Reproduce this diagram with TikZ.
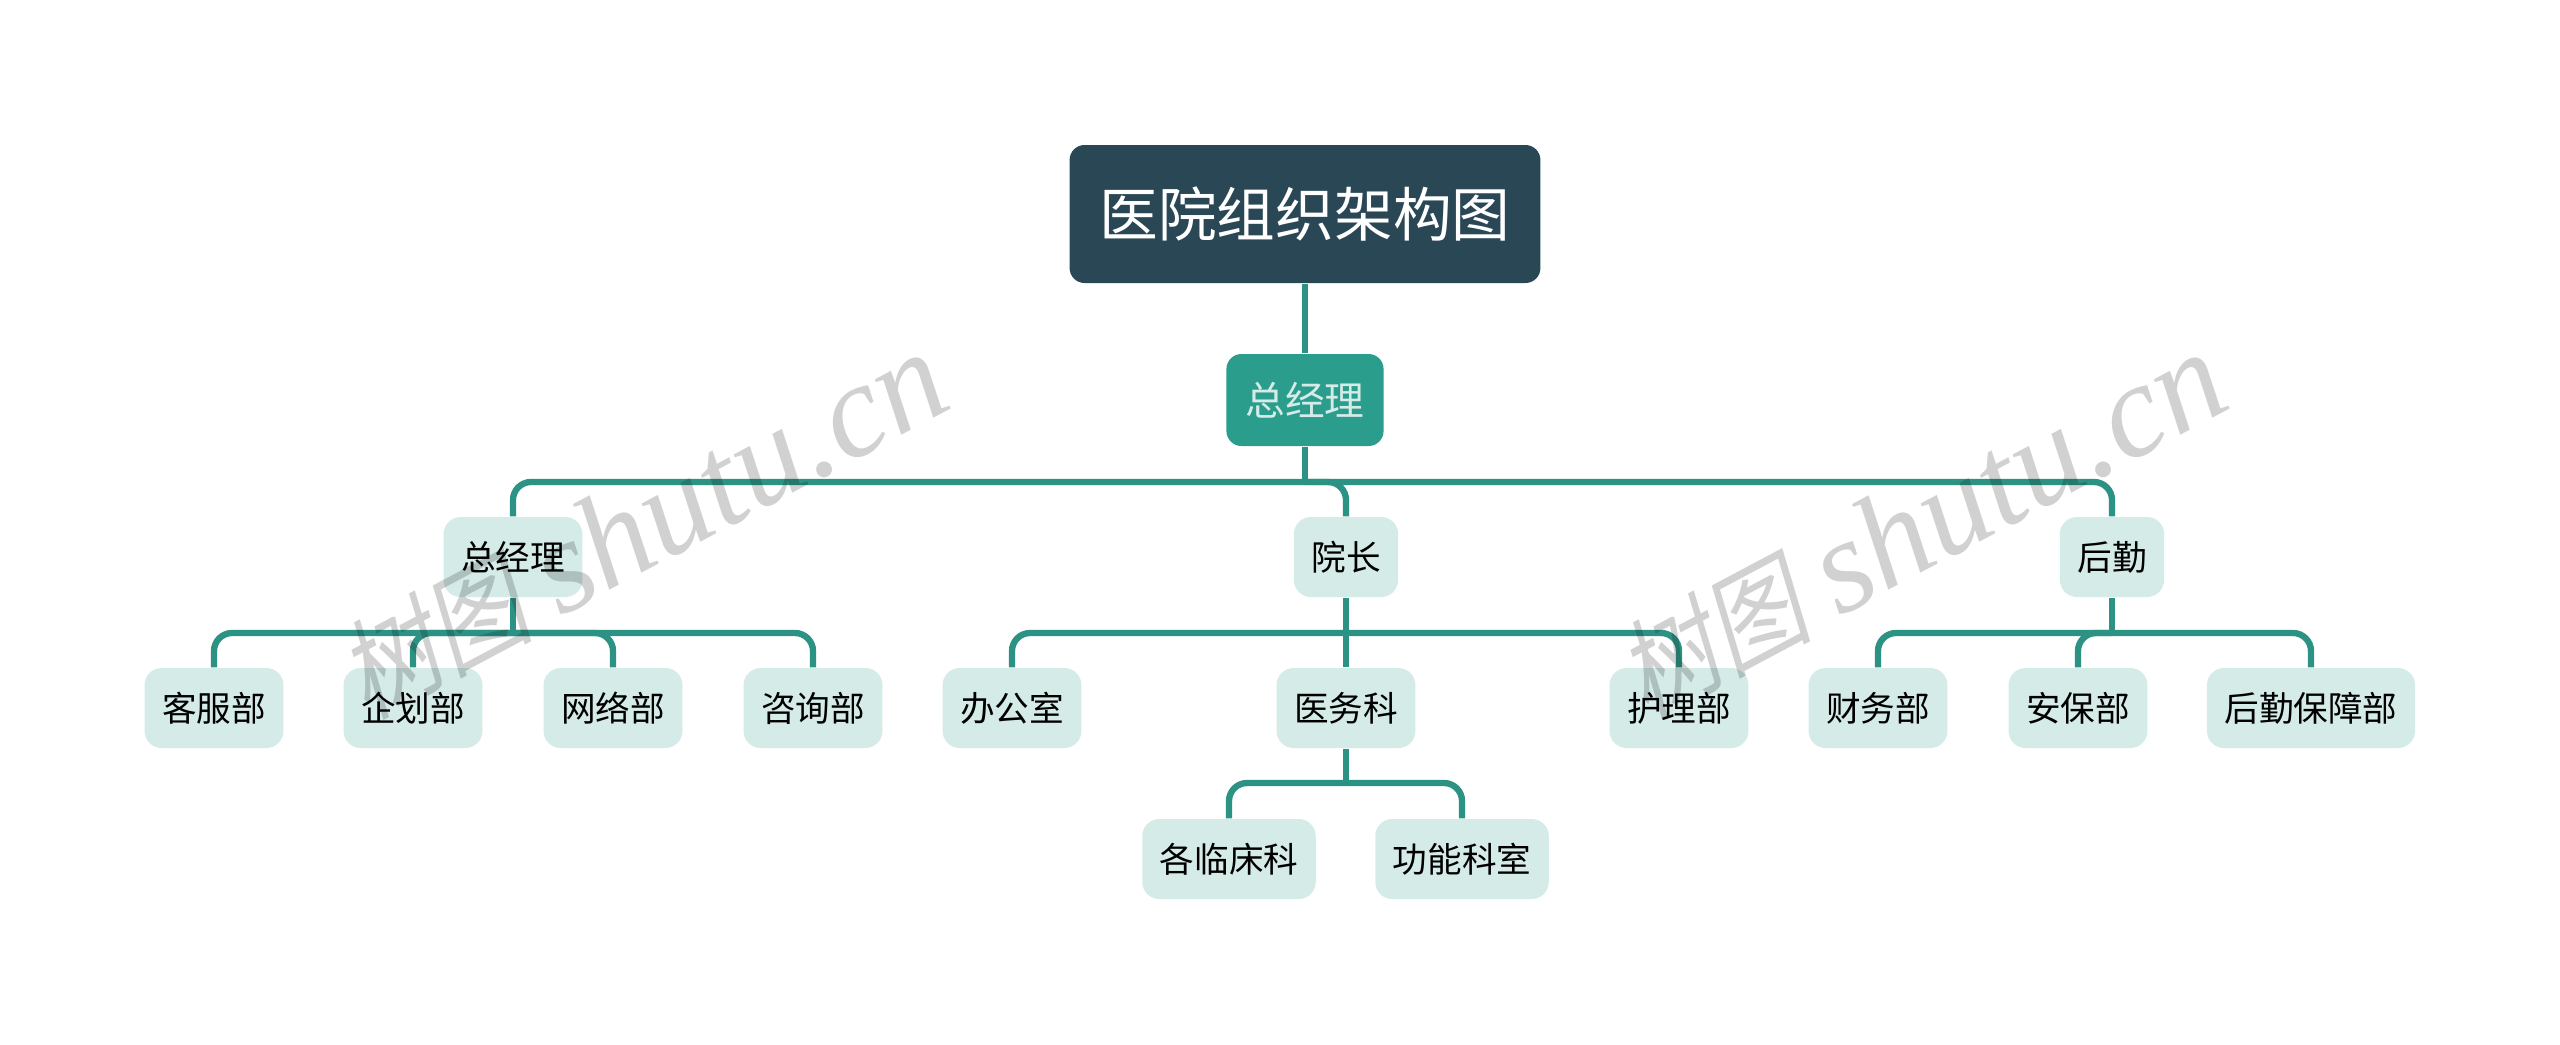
\documentclass[tikz,border=0pt]{standalone}
\usepackage{fontspec}
\setmainfont{Noto Sans CJK SC}
\newfontfamily\wmcjk[FakeSlant=0.2,FakeStretch=0.88]{Noto Sans CJK SC}
\newfontfamily\wmlatin[ItalicFont=Liberation Serif Italic]{Liberation Serif}
\definecolor{rootcol}{HTML}{2A4756}
\definecolor{bosscol}{HTML}{2A9D8C}
\definecolor{linkcol}{HTML}{2C9384}
\definecolor{boxcol}{HTML}{D5EBE8}
\tikzset{
  rootbox/.style={fill=rootcol, text=white, rounded corners=0.15cm, minimum height=1.38cm, inner xsep=0.30cm, font=\fontsize{16.7}{20}\selectfont},
  bossbox/.style={fill=bosscol, text=boxcol, rounded corners=0.15cm, minimum height=0.92cm, inner xsep=0.19cm, font=\fontsize{11.3}{14}\selectfont},
  deptbox/.style={fill=boxcol, text=black, rounded corners=0.17cm, minimum height=0.80cm, inner xsep=0.175cm, font=\fontsize{9.85}{12}\selectfont},
  link/.style={draw=linkcol, line width=1.8pt, rounded corners=0.18cm},
  stamp/.style={black, opacity=0.18, rotate=28, inner sep=0pt, font=\fontsize{34}{40}\selectfont}
}
\begin{document}
\begin{tikzpicture}
    \useasboundingbox (0,0) rectangle (25.6,-10.44);
    % Topo
    \node[rootbox] (root) at (13.05,-2.14) {医院组织架构图};
    \node[bossbox] (boss) at (13.05,-4.00) {总经理};
    % Segundo nivel
    \node[deptbox] (manager) at (5.13,-5.57) {总经理};
    \node[deptbox] (dean) at (13.46,-5.57) {院长};
    \node[deptbox] (logistics) at (21.12,-5.57) {后勤};
    % Folhas do primeiro ramo
    \node[deptbox] (service) at (2.14,-7.08) {客服部};
    \node[deptbox] (planning) at (4.13,-7.08) {企划部};
    \node[deptbox] (network) at (6.13,-7.08) {网络部};
    \node[deptbox] (consult) at (8.13,-7.08) {咨询部};
    % Folhas do ramo central
    \node[deptbox] (office) at (10.12,-7.08) {办公室};
    \node[deptbox] (medical) at (13.46,-7.08) {医务科};
    \node[deptbox] (nursing) at (16.79,-7.08) {护理部};
    \node[deptbox] (clinical) at (12.29,-8.59) {各临床科};
    \node[deptbox] (function) at (14.62,-8.59) {功能科室};
    % Folhas do ultimo ramo
    \node[deptbox] (finance) at (18.78,-7.08) {财务部};
    \node[deptbox] (security) at (20.78,-7.08) {安保部};
    \node[deptbox] (support) at (23.11,-7.08) {后勤保障部};
    % Barramentos
    \coordinate (bossbus) at (13.05,-4.82);
    \coordinate (managerbus) at (5.13,-6.33);
    \coordinate (deanbus) at (13.46,-6.33);
    \coordinate (logisticsbus) at (21.12,-6.33);
    \coordinate (medicalbus) at (13.46,-7.83);
    % Ligacoes do topo
    \draw[link] (root.south) -- (boss.north);
    \draw[link] (boss.south) -- (bossbus);
    \draw[link] (bossbus) -| (manager.north);
    \draw[link] (bossbus) -| (dean.north);
    \draw[link] (bossbus) -| (logistics.north);
    % Ligacoes do primeiro ramo
    \draw[link] (manager.south) -- (managerbus);
    \draw[link] (managerbus) -| (service.north);
    \draw[link] (managerbus) -| (planning.north);
    \draw[link] (managerbus) -| (network.north);
    \draw[link] (managerbus) -| (consult.north);
    % Ligacoes do ramo central
    \draw[link] (dean.south) -- (medical.north);
    \draw[link] (deanbus) -| (office.north);
    \draw[link] (deanbus) -| (nursing.north);
    \draw[link] (medical.south) -- (medicalbus);
    \draw[link] (medicalbus) -| (clinical.north);
    \draw[link] (medicalbus) -| (function.north);
    % Ligacoes do ultimo ramo
    \draw[link] (logistics.south) -- (logisticsbus);
    \draw[link] (logisticsbus) -| (finance.north);
    \draw[link] (logisticsbus) -| (security.north);
    \draw[link] (logisticsbus) -| (support.north);
    % Marca d'agua
    \node[stamp] (stampleft) at (6.42,-5.26) {{\wmcjk\fontsize{31}{40}\selectfont 树图} {\wmlatin\itshape\fontsize{38}{40}\selectfont shutu.cn}};
    \node[stamp] (stampright) at (19.21,-5.26) {{\wmcjk\fontsize{31}{40}\selectfont 树图} {\wmlatin\itshape\fontsize{38}{40}\selectfont shutu.cn}};
\end{tikzpicture}
\end{document}
